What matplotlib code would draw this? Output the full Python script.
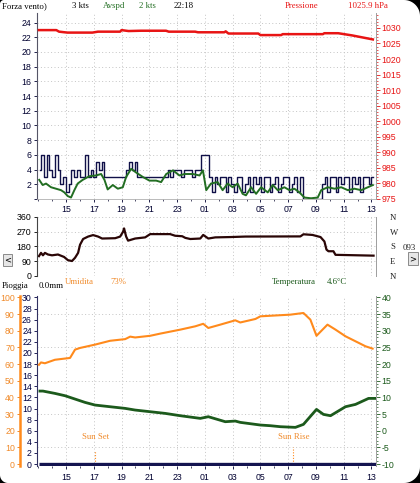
import numpy as np
import matplotlib
matplotlib.use('Agg')
import matplotlib.pyplot as plt
from matplotlib.transforms import IdentityTransform
from matplotlib.patches import Polygon, Rectangle
from matplotlib.ticker import MultipleLocator, FixedLocator

plt.rcParams['font.family'] = ['Liberation Sans Narrow', 'Liberation Sans', 'DejaVu Sans']
plt.rcParams['axes.unicode_minus'] = False

# ---------------- data ----------------
hour_ticks = [15, 17, 19, 21, 23, 25, 27, 29, 31, 33, 35, 37]
hour_labels = ['15', '17', '19', '21', '23', '01', '03', '05', '07', '09', '11', '13']
x_range = (12.91, 37.29)

gust_start, gust_end = 13.1, 37.1
gust_values = [4, 6, 3, 6,
               4, 3, 6, 4,
               2, 3, 1, 2, 4,
               3, 4, 3, 3,
               6,
               3, 4, 3, 5, 4, 5,
               3, 3, 3, 3, 3, 3, 3, 3,
               4, 5, 4, 5,
               3, 3, 3, 3, 3, 3, 3, 3, 3, 3, 3,
               4, 3, 4,
               4, 4, 3, 4, 4, 4, 3, 4, 4,
               6, 6, 6,
               3, 1, 3, 2, 3, 3, 1, 3, 2, 1, 3, 3, 1, 2, 3, 1, 3, 2, 3, 1, 3, 3, 1, 2, 3, 1, 2, 3, 3, 1, 2, 3, 1, 3,
               0, 0, 0, 0, 0, 0, 0,
               2, 3, 1, 3, 3, 1, 3, 2, 3, 3, 1, 3, 2, 3, 1, 3, 3, 2, 3]

avg_hours = [13.07, 13.32, 13.56, 13.92, 14.28, 14.64, 14.88, 15.12, 15.36, 15.6,
             15.84, 16.2, 16.68, 17.16, 17.53, 17.77, 18.0, 18.37, 18.73, 19.09,
             19.33, 19.69, 20.05, 20.53, 21.01, 21.49, 21.85, 22.22, 22.7, 23.17,
             23.54, 24.14, 24.62, 24.86, 25.1, 25.25, 25.44, 25.92, 26.28, 26.64,
             27.0, 27.36, 27.72, 27.96, 28.33, 28.69, 29.05, 29.53, 29.89, 30.25,
             30.73, 31.09, 31.45, 31.81, 32.17, 32.65, 33.13, 33.38, 33.85, 34.34,
             34.82, 35.3, 35.78, 36.26, 36.74, 37.1]
avg_values = [2.6, 1.9, 2.1, 1.6, 1.4, 1.2, 0.9, 0.4, 0.2, 1.2,
              2.1, 2.6, 3.1, 3.2, 3.4, 2.6, 1.3, 1.9, 1.4, 1.6,
              3.0, 4.1, 3.6, 3.0, 2.5, 2.5, 2.3, 3.4, 3.9, 3.2,
              3.4, 3.4, 3.2, 3.9, 1.2, 1.6, 2.1, 2.3, 1.2, 2.1,
              1.6, 2.1, 0.7, 0.5, 1.6, 0.7, 1.6, 0.9, 1.9, 1.2,
              1.6, 1.2, 1.4, 0.9, 0.2, 0.1, 0.2, 1.2, 1.6, 1.4,
              1.6, 1.2, 1.4, 1.2, 1.6, 1.9]

pressure_hours = [13.05, 14.3, 14.5, 15.1, 16.9, 17.3, 18.9, 19.0, 19.5, 20.4, 22.2, 22.4, 24.3,
                  24.5, 26.4, 26.5, 26.7, 28.85, 29.0, 30.5, 30.6, 33.5, 33.6, 34.6, 35.6, 37.1]
pressure_values = [1029.3, 1029.3, 1028.8, 1028.5, 1028.5, 1028.8, 1028.8, 1029.3, 1029.0, 1029.1,
                   1029.1, 1028.8, 1028.8, 1028.6, 1028.6, 1028.9, 1028.2, 1028.2, 1027.7, 1027.7,
                   1028.0, 1028.0, 1028.3, 1028.3, 1027.6, 1026.3]

dir_hours = [13.05, 13.2, 13.34, 13.48, 13.7, 13.99, 14.42, 14.86, 15.14, 15.43,
             15.65, 15.87, 16.01, 16.23, 16.59, 16.95, 17.31, 17.6, 18.54, 18.9,
             19.11, 19.18, 19.33, 19.47, 19.98, 20.7, 21.06, 22.5, 22.86, 23.37,
             23.59, 23.95, 24.67, 24.88, 25.25, 25.75, 26.83, 27.92, 31.88, 32.1,
             32.75, 33.33, 33.61, 33.76, 33.9, 34.26, 34.41, 37.15]
dir_values = [120, 140, 125, 140, 130, 125, 130, 115, 95, 90,
              110, 140, 190, 225, 240, 249, 240, 228, 230, 240,
              270, 290, 240, 215, 228, 235, 255, 255, 245, 242,
              232, 225, 228, 250, 228, 235, 237, 240, 241, 254,
              250, 237, 210, 160, 150, 150, 128, 123]

hum_hours = [13.05, 13.2, 13.48, 14.2, 15.29, 15.65, 16.01, 17.09, 18.17, 19.26,
             19.62, 19.98, 21.06, 21.78, 23.23, 24.31, 24.88, 25.25, 26.11, 27.19,
             27.55, 28.64, 29.0, 31.16, 32.1, 32.6, 33.04, 33.83, 34.41, 35.13,
             35.85, 36.57, 37.08]
hum_values = [59.6, 61.0, 60.5, 62.6, 63.7, 68.7, 69.7, 71.7, 74.0, 75.0,
              76.5, 76.0, 77.0, 78.3, 80.7, 82.7, 84.2, 81.7, 83.7, 86.3,
              85.0, 87.1, 88.7, 89.7, 90.7, 86.7, 77.0, 83.7, 80.7, 76.7,
              73.7, 70.7, 69.3]

temp_hours = [13.12, 13.34, 14.2, 14.93, 15.65, 16.37, 17.09, 18.17, 19.26, 19.98,
              21.06, 22.14, 23.23, 24.31, 24.67, 25.25, 26.47, 27.19, 27.55, 29.0,
              29.72, 30.44, 31.52, 32.1, 33.04, 33.54, 34.05, 35.13, 35.85, 36.79, 37.25]
temp_values = [11.9, 11.9, 11.2, 10.5, 9.5, 8.5, 7.7, 7.2, 6.7, 6.2,
               5.7, 5.2, 4.5, 3.9, 3.7, 4.2, 2.7, 2.9, 2.5, 1.7,
               1.5, 1.2, 1.0, 1.9, 6.4, 4.9, 4.5, 7.2, 7.9, 9.7, 9.7]

rain_hours = [13.05, 37.29]
rain_values = [0.0, 0.0]

sunset_hour = 17.1
sunrise_hour = 31.38

wind_ticks = list(range(0, 25, 2))
pressure_ticks = list(range(975, 1031, 5))
dir_ticks = [0, 90, 180, 270, 360]
dir_labels = ['0', '90', '180', '270', '360']
compass_labels = ['N', 'E', 'S', 'W', 'N']
rain_ticks = list(range(0, 31, 2))
hum_ticks = list(range(0, 101, 10))
temp_ticks = list(range(-10, 41, 5))

# ---------------- styling ----------------
W, H = 420, 483
NAVY = '#101048'
RED = '#e81414'
GREEN_AVG = '#226e22'
GREEN_T = '#1c5a1c'
ORANGE = '#ff8a1c'
ORANGE_TXT = '#f08a2a'
BROWN = '#2a0606'
GRID = '#c4c4c4'
GRID_LS = (0, (1, 2.5))
TICKFS = 6.3
SERIF = ['Liberation Serif', 'DejaVu Serif']

fig = plt.figure(figsize=(W / 100, H / 100), dpi=100, facecolor='white')


def rect(l, t, r, b):
    return [l / W, 1 - b / H, (r - l) / W, (b - t) / H]


def ftext(x, y, s, color='black', **kw):
    kw.setdefault('family', SERIF)
    kw.setdefault('fontsize', 6.3)
    fig.text(x / W, 1 - y / H, s, color=color, va='center', ha=kw.pop('ha', 'left'), **kw)


ax1 = fig.add_axes(rect(37, 13, 375.5, 199))
ax2 = fig.add_axes(rect(37, 217, 375.5, 275.7))
ax3 = fig.add_axes(rect(37, 296, 375.5, 466))

for ax in (ax1, ax2, ax3):
    ax.set_xlim(*x_range)
    ax.set_facecolor('none')
    ax.xaxis.set_major_locator(FixedLocator(hour_ticks))
    ax.xaxis.set_minor_locator(MultipleLocator(1))
    ax.set_xticklabels(hour_labels)
    ax.grid(axis='x', which='major', color=GRID, lw=0.7, ls=GRID_LS)
    ax.spines['top'].set_visible(False)
    ax.spines['right'].set_color('#a0a0a0')
    ax.spines['right'].set_linewidth(0.7)
    ax.tick_params(axis='x', which='major', length=2.5, width=0.6, pad=1.5,
                   labelsize=TICKFS, colors='#000030')
    ax.tick_params(axis='x', which='minor', length=1.6, width=0.6, colors='#303050')

# ---- panel 1: wind & pressure ----
ax1.set_ylim(0, 25.3)
ax1.set_yticks(wind_ticks)
ax1.set_yticklabels([''] + [str(v) for v in wind_ticks[1:]])
ax1.grid(axis='y', color=GRID, lw=0.7, ls=GRID_LS)
ax1.tick_params(axis='y', length=2.5, width=0.6, pad=1.5, labelsize=TICKFS, colors='#000030')
ax1.spines['left'].set_color('#555566')
ax1.spines['left'].set_linewidth(0.8)
ax1.spines['bottom'].set_color('#b0b0b0')
ax1.spines['bottom'].set_linewidth(0.6)
gust_hours = np.linspace(gust_start, gust_end, len(gust_values))
ax1.plot(gust_hours, gust_values, drawstyle='steps-mid', color=NAVY, lw=1.0, zorder=2)
ax1.plot(avg_hours, avg_values, color=GREEN_AVG, lw=1.4, zorder=3)

ax1r = ax1.twinx()
ax1r.set_ylim(975, 1034.8)
ax1r.set_yticks(pressure_ticks)
ax1r.yaxis.set_minor_locator(MultipleLocator(1))
ax1r.tick_params(axis='y', which='major', length=3, width=0.6, pad=1.2,
                 labelsize=TICKFS, colors=RED)
ax1r.tick_params(axis='y', which='minor', length=1.2, width=0.5, colors=RED)
for s in ('top', 'left', 'bottom'):
    ax1r.spines[s].set_visible(False)
ax1r.spines['right'].set_color('#a0a0a0')
ax1r.spines['right'].set_linewidth(0.7)
ax1r.plot(pressure_hours, pressure_values, color=RED, lw=1.8)

# ---- panel 2: wind direction ----
ax2.set_ylim(0, 360)
ax2.set_yticks(dir_ticks)
ax2.set_yticklabels(dir_labels)
ax2.grid(axis='y', color=GRID, lw=0.7, ls=GRID_LS)
ax2.tick_params(axis='y', length=2.5, width=0.6, pad=1.5, labelsize=TICKFS, colors='black')
ax2.tick_params(axis='x', which='both', length=0, labelbottom=False)
ax2.spines['bottom'].set_visible(False)
ax2.spines['left'].set_color('#444444')
ax2.spines['left'].set_linewidth(0.8)
ax2.plot(dir_hours, dir_values, color=BROWN, lw=1.6)

ax2r = ax2.twinx()
ax2r.set_ylim(0, 360)
ax2r.set_yticks(dir_ticks)
ax2r.set_yticklabels(compass_labels, family=SERIF)
ax2r.tick_params(axis='y', length=0, pad=10.4, labelsize=6.3, colors='#222222')
for s in ('top', 'left', 'bottom'):
    ax2r.spines[s].set_visible(False)
ax2r.spines['right'].set_color('#a0a0a0')
ax2r.spines['right'].set_linewidth(0.7)

# ---- panel 3: rain / humidity / temperature ----
ax3.set_ylim(-0.36, 30.27)
ax3.set_yticks(rain_ticks)
ax3.yaxis.set_minor_locator(MultipleLocator(3))
ax3.grid(axis='y', which='minor', color=GRID, lw=0.7, ls=GRID_LS)
ax3.tick_params(axis='y', which='major', length=2.5, width=0.6, pad=1.2,
                labelsize=TICKFS, colors='#000040')
ax3.tick_params(axis='y', which='minor', length=0)
ax3.spines['bottom'].set_visible(False)
ax3.spines['left'].set_color('#303060')
ax3.spines['left'].set_linewidth(0.8)
ax3.tick_params(axis='x', which='major', length=2.5, pad=2.5)
ax3.plot(rain_hours, rain_values, color='#141450', lw=2.4, solid_capstyle='butt', zorder=4)
ax3.plot([sunset_hour, sunset_hour], [0, 2.35], color=ORANGE, lw=0.8, ls=(0, (1, 1.5)))
ax3.plot([sunrise_hour, sunrise_hour], [0, 3.07], color=ORANGE, lw=0.8, ls=(0, (1, 1.5)))
ax3.text(sunset_hour, 4.9, 'Sun Set', color=ORANGE_TXT, fontsize=6.3, family=SERIF,
         ha='center', va='center')
ax3.text(sunrise_hour, 4.9, 'Sun Rise', color=ORANGE_TXT, fontsize=6.3, family=SERIF,
         ha='center', va='center')

ax3h = ax3.twinx()
ax3h.set_ylim(-1.2, 100.9)
ax3h.spines['left'].set_position(('axes', (20 - 37) / 338.5))
ax3h.spines['left'].set_visible(True)
ax3h.spines['left'].set_color(ORANGE)
ax3h.spines['left'].set_linewidth(1.8)
ax3h.yaxis.tick_left()
ax3h.set_yticks(hum_ticks)
ax3h.tick_params(axis='y', length=2.5, width=0.7, pad=1.2, labelsize=TICKFS, colors=ORANGE_TXT)
for s in ('top', 'right', 'bottom'):
    ax3h.spines[s].set_visible(False)
ax3h.plot(hum_hours, hum_values, color=ORANGE, lw=1.5)

ax3t = ax3.twinx()
ax3t.set_ylim(-10.6, 40.45)
ax3t.set_yticks(temp_ticks)
ax3t.yaxis.set_minor_locator(MultipleLocator(1))
ax3t.tick_params(axis='y', which='major', length=3, width=0.6, pad=1.2,
                 labelsize=TICKFS, colors=GREEN_T)
ax3t.tick_params(axis='y', which='minor', length=1.2, width=0.5, colors=GREEN_T)
for s in ('top', 'left', 'bottom'):
    ax3t.spines[s].set_visible(False)
ax3t.spines['right'].set_color('#a0a0a0')
ax3t.spines['right'].set_linewidth(0.7)
ax3t.plot(temp_hours, temp_values, color=GREEN_T, lw=2.0)

# ---- header texts ----
ftext(2, 6.5, 'Forza vento)')
ftext(72, 6.5, '3 kts')
ftext(103, 6.5, 'Avspd', color=GREEN_AVG)
ftext(139, 6.5, '2 kts', color=GREEN_AVG)
ftext(174, 6.5, '22:18')
ftext(285, 6.5, 'Pressione', color=RED)
ftext(348, 6.5, '1025.9 hPa', color=RED)

ftext(2, 285.5, 'Pioggia')
ftext(39, 286, '0.0mm')
ftext(65, 281.5, 'Umidita', color=ORANGE_TXT)
ftext(110, 281.5, '73%', color=ORANGE_TXT)
ftext(272, 281.5, 'Temperatura', color=GREEN_T)
ftext(327, 281.5, '4.6°C', color=GREEN_T)
ftext(403, 248, '093', color='#222222')

# ---- scroll buttons ----
for (l, t, r, b, s) in [(3, 254, 12, 266, '<'), (408, 252, 418, 265, '>')]:
    fig.add_artist(Rectangle((l / W, 1 - b / H), (r - l) / W, (b - t) / H,
                             transform=fig.transFigure, facecolor='#e6e6e6',
                             edgecolor='#8a8a8a', lw=0.7))
    ftext((l + r) / 2, (t + b) / 2, s, ha='center', family=['DejaVu Sans'], fontsize=6)

# ---- rounded window corners ----
def corner(cx, cy, r, sx, sy):
    th = np.linspace(0, np.pi / 2, 16)
    ccx, ccy = cx - sx * r, cy - sy * r
    pts = [(cx, cy)] + [(ccx + sx * r * np.cos(a), ccy + sy * r * np.sin(a)) for a in th]
    pts = [(px, H - py) for px, py in pts]
    fig.add_artist(Polygon(pts, closed=True, transform=IdentityTransform(),
                           facecolor='black', edgecolor='none'))

corner(0, 0, 4, -1, -1)
corner(W, 0, 16, 1, -1)
corner(0, H, 8, -1, 1)
corner(W, H, 16, 1, 1)

fig.savefig('out.png', dpi=100, facecolor='white')
